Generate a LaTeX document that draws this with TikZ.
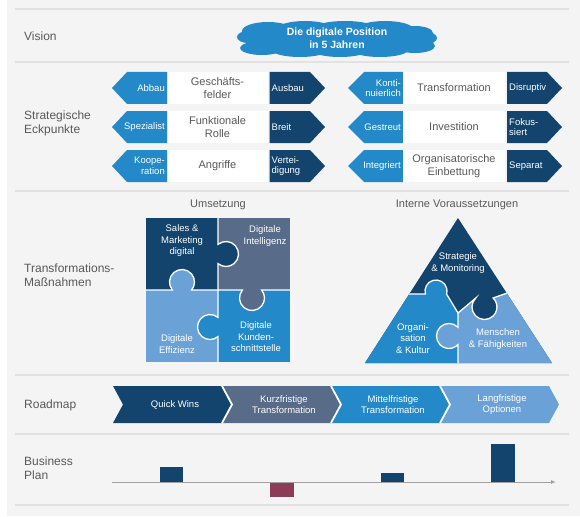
\documentclass[tikz,border=0pt]{standalone}
\usepackage{fontspec}
\setmainfont{Liberation Sans}
\usetikzlibrary{arrows.meta}
\definecolor{navy}{HTML}{12446E}
\definecolor{slate}{HTML}{586B88}
\definecolor{midblue}{HTML}{2389C9}
\definecolor{lightblue}{HTML}{6AA2D8}
\definecolor{maroon}{HTML}{8B3C56}
\definecolor{bggray}{HTML}{F4F4F4}
\definecolor{linegray}{HTML}{E2E2E2}
\definecolor{txtgray}{HTML}{595959}
\definecolor{axisgray}{HTML}{A0A0A0}
\tikzset{
 seclab/.style={anchor=west, inner sep=0, text=txtgray, font=\fontsize{12}{14.5}\selectfont, align=left},
 arrl/.style={anchor=east, inner sep=0, text=white, font=\fontsize{9.5}{10.5}\selectfont, align=right},
 arrr/.style={anchor=west, inner sep=0, text=white, font=\fontsize{9.5}{10.5}\selectfont, align=left},
 wbox/.style={fill=white, minimum width=100, minimum height=32, inner sep=0, text=txtgray, font=\fontsize{11}{12.5}\selectfont, align=center},
 ptxt/.style={inner sep=0, text=white, font=\fontsize{9.5}{11.5}\selectfont, align=center},
 rtxt/.style={inner sep=0, text=white, font=\fontsize{9.5}{11}\selectfont, align=center},
 subhead/.style={inner sep=0, text=txtgray, font=\fontsize{11}{13}\selectfont},
 sepline/.style={linegray, line width=1.2},
 wline/.style={white, line width=1.3},
}
\newcommand\stratL[5]{%
  \fill[midblue] (112,#2) -- (127,#2-16) -- (167,#2-16) -- (167,#2+16) -- (127,#2+16) -- cycle;
  \node[wbox] (#1m) at (217.5,#2) {#4};
  \fill[navy] (269.5,#2-16) -- (310,#2-16) -- (325,#2) -- (310,#2+16) -- (269.5,#2+16) -- cycle;
  \node[arrl] (#1l) at (165,#2) {#3};
  \node[arrr] (#1r) at (271.5,#2) {#5};
}
\newcommand\stratR[5]{%
  \fill[midblue] (348,#2) -- (364,#2-16) -- (403,#2-16) -- (403,#2+16) -- (364,#2+16) -- cycle;
  \node[wbox, minimum width=102] (#1m) at (454,#2) {#4};
  \fill[navy] (507,#2-16) -- (547,#2-16) -- (562,#2) -- (547,#2+16) -- (507,#2+16) -- cycle;
  \node[arrl] (#1l) at (401,#2) {#3};
  \node[arrr] (#1r) at (509,#2) {#5};
}
\newcommand\chev[4]{%
  \fill[#3] (#2,386) -- (#2+109,386) -- (#2+119,404.5) -- (#2+109,423) -- (#2,423) -- (#2+10,404.5) -- cycle;
  \node[rtxt] (#1) at (#2+62,404.5) {#4};
}
\begin{document}
\begin{tikzpicture}[x=1pt,y=-1pt]
\useasboundingbox (0,0) rectangle (580,516);
\fill[white] (0,0) rectangle (580,516);
\fill[bggray] (7,0) rectangle (580,516);
\foreach \yy in {9,62,191,375,434,505} \draw[sepline] (15,\yy) -- (569,\yy);

% section labels
\node[seclab] (lvision) at (24,36) {Vision};
\node[seclab] (lstrat) at (24,123.5) {Strategische\\Eckpunkte};
\node[seclab] (ltrans) at (24,275) {Transformations-\\Maßnahmen};
\node[seclab] (lroad) at (24,405) {Roadmap};
\node[seclab] (lbp) at (24,468) {Business\\Plan};

% vision cloud
\fill[midblue] (337,39) ellipse[x radius=88, y radius=13]
  (268,31) ellipse[x radius=26, y radius=9]
  (305,29) ellipse[x radius=28, y radius=8]
  (345,28) ellipse[x radius=30, y radius=7]
  (385,29) ellipse[x radius=28, y radius=8]
  (415,33) ellipse[x radius=18, y radius=7]
  (262,48) ellipse[x radius=22, y radius=7]
  (300,50) ellipse[x radius=28, y radius=7]
  (340,50) ellipse[x radius=28, y radius=7]
  (380,50) ellipse[x radius=28, y radius=7]
  (415,46) ellipse[x radius=20, y radius=7]
  (248,37) ellipse[x radius=11, y radius=6]
  (426,38) ellipse[x radius=11, y radius=6];
\node[inner sep=0, text=white, font=\bfseries\fontsize{10.5}{13}\selectfont, align=center] (vision) at (337,38) {Die digitale Position\\in 5 Jahren};

% strategic points
\stratL{a}{88}{Abbau}{Geschäfts-\\felder}{Ausbau}
\stratL{b}{127}{Spezialist}{Funktionale\\Rolle}{Breit}
\stratL{c}{166}{Koope-\\ration}{Angriffe}{Vertei-\\digung}
\stratR{d}{88}{Konti-\\nuierlich}{Transformation}{Disruptiv}
\stratR{e}{127}{Gestreut}{Investition}{Fokus-\\siert}
\stratR{f}{166}{Integriert}{Organisatorische\\Einbettung}{Separat}

% puzzle
\node[subhead] (hums) at (218,205) {Umsetzung};
\fill[navy] (146,218) rectangle (218,290);
\fill[slate] (218,218) rectangle (290,290);
\fill[lightblue] (146,290) rectangle (218,362);
\fill[midblue] (218,290) rectangle (290,362);
\fill[navy] (226,254) circle[radius=12.5];
\fill[lightblue] (182,282) circle[radius=12.5];
\fill[slate] (252,298) circle[radius=12.5];
\fill[midblue] (210,327) circle[radius=12.5];
\draw[wline] (218,218) -- (218,244.4) arc[start angle=-129.8, end angle=129.8, radius=12.5] -- (218,317.4) arc[start angle=-50.2, end angle=-309.8, radius=12.5] -- (218,362);
\draw[wline] (146,290) -- (172.4,290) arc[start angle=140.2, end angle=399.8, radius=12.5] -- (242.4,290) arc[start angle=219.8, end angle=-39.8, radius=12.5] -- (290,290);
\node[ptxt] (p1) at (182,241) {Sales \&\\Marketing\\digital};
\node[ptxt] (p2) at (265,236) {Digitale\\Intelligenz};
\node[ptxt] (p3) at (177,344) {Digitale\\Effizienz};
\node[ptxt] (p4) at (256,337) {Digitale\\Kunden-\\schnittstelle};

% triangle
\node[subhead] (hint) at (457,205) {Interne Voraussetzungen};
\begin{scope}
\clip (458,218) -- (552,363) -- (365,363) -- cycle;
\fill[navy] (300,200) rectangle (600,400);
\fill[midblue] (350,294) -- (425.4,294) arc[start angle=164.2, end angle=375.8, radius=11] -- (458,313) -- (458,370) -- (350,370) -- cycle;
\fill[lightblue] (458,313) -- (475.8,298) arc[start angle=226.1, end angle=-46.1, radius=12.5] -- (510,292) -- (560,292) -- (560,370) -- (458,370) -- cycle;
\fill[lightblue] (449,336) circle[radius=12.5];
\draw[wline] (350,294) -- (425.4,294) arc[start angle=164.2, end angle=375.8, radius=11] -- (458,313) -- (475.8,298) arc[start angle=226.1, end angle=-46.1, radius=12.5] -- (510,292) -- (560,292);
\draw[wline] (458,313) -- (458,327.3) arc[start angle=-43.9, end angle=-316.1, radius=12.5] -- (458,370);
\end{scope}
\node[ptxt] (t1) at (458,263) {Strategie\\\& Monitoring};
\node[ptxt] (t2) at (413,338.5) {Organi-\\sation\\\& Kultur};
\node[ptxt] (t3) at (498,339) {Menschen\\\& Fähigkeiten};

% roadmap
\chev{r1}{113}{navy}{Quick Wins}
\chev{r2}{222}{slate}{Kurzfristige\\Transformation}
\chev{r3}{331}{midblue}{Mittelfristige\\Transformation}
\chev{r4}{440}{lightblue}{Langfristige\\Optionen}
\draw[white, line width=1.8] (222,386) -- (232,404.5) -- (222,423);
\draw[white, line width=1.8] (331,386) -- (341,404.5) -- (331,423);
\draw[white, line width=1.8] (440,386) -- (450,404.5) -- (440,423);

% business plan
\fill[navy] (160,467) rectangle (183,482);
\fill[maroon] (270,482) rectangle (294,497);
\fill[navy] (381,473) rectangle (404,482);
\fill[navy] (491,444) rectangle (515,482);
\coordinate (ax0) at (112,482);
\coordinate (ax1) at (556,482);
\draw[axisgray, line width=1, -{Latex[length=5,width=4]}] (ax0) -- (ax1);
\end{tikzpicture}
\end{document}
